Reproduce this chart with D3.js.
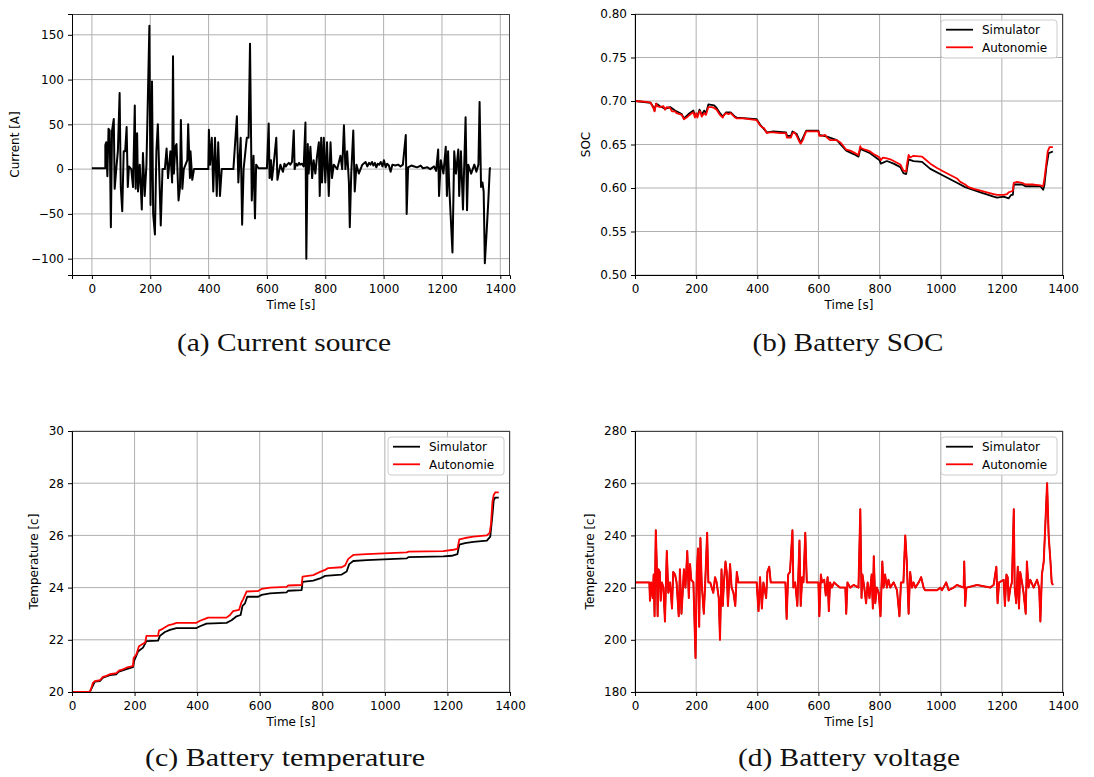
<!DOCTYPE html>
<html>
<head>
<meta charset="utf-8">
<script src="https://cdn.jsdelivr.net/npm/d3@7"></script>
<style>
  body { margin: 0; background: #fff; }
  svg { display: block; }
  .tick text { font-family: "DejaVu Sans", sans-serif; font-size: 12px; fill: #000; }
</style>
</head>
<body>
<svg id="fig" width="1094" height="777"></svg>
<script>
// ---------------- DATA ----------------
const xTicks = [0, 200, 400, 600, 800, 1000, 1200, 1400];

// (a) Current source
const currentTime = [0,46,46,49,53,57,61,65,69,75,78,84,89,95,99,104,109,114,119,123,127,135,141,147,150,155,158,164,171,175,181,187,197,201,206,210,216,221,226,231,236,242,250,256,261,269,275,278,281,286,290,297,302,305,310,315,327,330,336,338,344,350,399,401,405,411,416,422,428,433,439,445,485,497,502,510,515,520,531,537,542,548,554,559,563,571,600,606,609,614,617,623,632,636,646,651,655,660,665,669,675,680,686,692,695,700,705,710,714,720,726,732,735,740,743,749,755,760,766,772,778,781,786,789,795,800,806,812,818,823,829,841,852,858,864,869,875,881,884,889,896,901,907,915,927,938,944,950,955,960,965,970,975,980,985,990,996,1001,1007,1012,1018,1024,1030,1040,1050,1058,1066,1076,1079,1084,1095,1105,1115,1127,1135,1150,1160,1173,1180,1187,1190,1196,1205,1213,1217,1221,1225,1236,1242,1248,1256,1259,1265,1272,1281,1286,1290,1300,1311,1318,1325,1329,1334,1339,1343,1347,1354,1359,1364,1368];
const currentValue = [1,1,27,30,-8,45,43,-65,43,56,-22,2,20,85,-20,-47,20,20,47,-20,3,0,-20,71,-22,40,-25,5,-45,18,-30,5,160,-40,98,-50,-73,20,50,-5,-63,0,0,23,-10,20,-15,126,-5,25,28,-35,-20,55,-22,0,10,50,-10,20,-12,0,0,44,5,35,-25,35,-30,30,-30,0,0,59,-15,35,-62,0,35,35,140,-35,15,-55,5,1,1,51,-10,10,-12,5,35,-12,5,0,-3,6,3,5,7,5,8,43,0,6,4,7,5,6,3,52,-100,28,-5,25,-10,10,-5,15,30,-30,35,-15,35,-15,30,-30,30,-10,5,0,15,0,49,0,20,-15,-65,-5,43,-25,5,-5,5,8,3,7,5,8,4,7,2,6,5,8,3,10,2,6,4,-3,5,4,5,3,5,38,-50,2,4,3,2,4,1,2,0,3,-2,22,-30,10,-5,25,-30,20,-20,-93,20,-5,22,-30,20,-45,58,-46,5,-5,5,-3,5,75,-20,-15,-25,-105,-65,-35,1,1];
const currentTicks = [-100, -50, 0, 50, 100, 150];

// (b) Battery SOC
const socTimeAut = [0,38,51,60,64,69,73,82,93,98,104,115,121,131,136,153,160,169,175,186,191,196,200,204,211,215,218,226,232,240,251,259,267,278,287,291,298,306,313,322,327,333,355,398,409,415,422,431,440,453,475,494,497,510,515,521,529,538,542,549,554,560,584,600,603,612,622,628,638,660,673,682,691,704,715,731,737,739,753,769,780,791,800,804,811,824,835,846,857,868,878,887,889,895,900,911,939,949,966,988,1009,1031,1053,1064,1080,1091,1108,1130,1151,1173,1184,1206,1217,1222,1230,1236,1239,1250,1266,1277,1304,1326,1335,1339,1346,1350,1356,1367];
const socAutonomie = [0.700,0.699,0.698,0.692,0.688,0.697,0.694,0.693,0.694,0.690,0.693,0.692,0.688,0.688,0.686,0.684,0.679,0.681,0.683,0.686,0.687,0.681,0.686,0.681,0.688,0.687,0.682,0.686,0.684,0.693,0.693,0.692,0.690,0.684,0.681,0.684,0.686,0.685,0.686,0.683,0.681,0.680,0.680,0.678,0.672,0.670,0.669,0.663,0.664,0.664,0.663,0.663,0.658,0.658,0.663,0.664,0.660,0.653,0.651,0.655,0.660,0.665,0.665,0.665,0.660,0.660,0.661,0.658,0.655,0.655,0.652,0.648,0.644,0.643,0.641,0.638,0.648,0.646,0.644,0.642,0.639,0.637,0.635,0.632,0.635,0.634,0.633,0.631,0.629,0.627,0.620,0.619,0.626,0.638,0.635,0.637,0.636,0.633,0.628,0.623,0.619,0.615,0.611,0.607,0.604,0.601,0.599,0.597,0.595,0.593,0.592,0.592,0.593,0.595,0.596,0.597,0.606,0.607,0.606,0.604,0.604,0.603,0.602,0.610,0.630,0.642,0.647,0.647];
const socTimeSim = [0,51,60,64,69,82,98,115,131,153,160,175,191,196,204,211,218,226,232,240,259,267,278,287,298,313,327,333,398,409,431,453,494,497,510,515,529,542,560,600,603,628,660,691,715,731,737,769,800,804,824,846,868,878,887,895,911,939,966,1009,1053,1080,1130,1173,1184,1206,1222,1230,1236,1239,1266,1277,1326,1335,1339,1346,1353,1367];
const socSimulator = [0.700,0.698,0.693,0.689,0.697,0.694,0.691,0.693,0.689,0.685,0.680,0.685,0.689,0.683,0.683,0.690,0.684,0.689,0.686,0.696,0.695,0.692,0.686,0.682,0.687,0.687,0.682,0.681,0.679,0.673,0.664,0.665,0.664,0.660,0.660,0.665,0.662,0.652,0.666,0.666,0.661,0.659,0.655,0.643,0.639,0.636,0.645,0.640,0.632,0.628,0.631,0.628,0.624,0.617,0.616,0.633,0.631,0.630,0.622,0.614,0.606,0.601,0.595,0.590,0.589,0.590,0.588,0.592,0.592,0.604,0.604,0.602,0.602,0.598,0.603,0.625,0.640,0.642];
const socTicks = [0.50, 0.55, 0.60, 0.65, 0.70, 0.75, 0.80];

// (c) Battery temperature
const tempTimeAut = [0,57,63,67,73,89,99,110,121,142,150,163,174,190,195,197,206,214,227,234,238,275,278,291,307,323,334,398,409,425,435,494,505,515,534,542,547,558,595,606,633,686,691,734,737,771,793,809,819,862,873,883,899,942,1070,1076,1187,1219,1232,1238,1256,1283,1326,1335,1339,1344,1348,1353,1364];
const tempAutonomie = [20.0,20.0,20.2,20.35,20.42,20.45,20.58,20.62,20.68,20.72,20.82,20.87,20.93,20.98,21.0,21.3,21.45,21.75,21.85,21.9,22.15,22.15,22.35,22.43,22.55,22.6,22.65,22.65,22.73,22.8,22.85,22.85,22.95,23.1,23.15,23.45,23.55,23.85,23.87,23.95,24.0,24.03,24.08,24.1,24.42,24.48,24.6,24.68,24.75,24.78,24.85,25.1,25.25,25.28,25.35,25.38,25.4,25.45,25.48,25.85,25.9,25.95,26.0,26.1,26.4,27.3,27.55,27.65,27.65];
const tempTimeSim = [0,57,63,73,89,99,121,142,150,174,195,199,211,227,238,275,281,297,313,334,398,409,430,494,510,526,539,545,553,560,595,606,633,686,691,734,737,771,793,809,862,878,886,899,942,1070,1076,1187,1214,1232,1238,1256,1283,1326,1337,1344,1348,1353,1364];
const tempSimulator = [20.0,20.0,20.15,20.4,20.42,20.55,20.65,20.68,20.78,20.88,20.95,21.2,21.55,21.7,21.95,21.97,22.15,22.3,22.38,22.45,22.45,22.52,22.62,22.65,22.75,22.9,22.95,23.3,23.4,23.65,23.65,23.72,23.78,23.82,23.88,23.9,24.22,24.27,24.35,24.45,24.5,24.62,24.9,25.02,25.05,25.12,25.17,25.2,25.22,25.28,25.65,25.7,25.75,25.8,25.95,26.8,27.35,27.45,27.45];
const tempTicks = [20, 22, 24, 26, 28, 30];

// (d) Battery voltage (Simulator trace lies underneath Autonomie)
const voltTime = [0,47,49,53,58,61,64,68,71,74,77,81,84,88,93,98,104,109,115,121,125,131,136,143,147,152,156,160,165,171,176,180,184,191,198,202,206,210,214,218,225,229,236,240,246,256,262,267,274,278,283,287,291,296,300,304,311,316,322,328,333,338,344,398,404,409,415,420,429,433,439,444,453,492,496,501,507,515,518,524,531,538,542,547,551,557,562,600,603,608,612,619,624,630,634,638,644,651,660,671,688,691,695,704,715,731,737,741,744,750,756,761,767,774,778,781,786,791,797,803,809,813,818,824,829,835,846,857,865,870,878,884,889,895,900,906,911,917,928,936,944,949,988,999,1004,1009,1018,1026,1042,1053,1075,1077,1080,1084,1119,1162,1173,1182,1186,1191,1206,1210,1215,1219,1222,1228,1233,1239,1242,1247,1252,1256,1260,1266,1271,1278,1282,1287,1293,1304,1315,1322,1326,1331,1337,1348,1353,1359,1363,1367];
const voltAutonomie = [222,222,215,222,216,225,209,242,230,209,227,226,215,222,220,207,234,218,222,212,226,225,222,209,227,210,218,227,220,234,216,229,223,222,193,225,235,205,239,222,210,220,241,222,222,218,224,222,216,200,227,213,222,230,226,213,229,220,218,213,226,222,222,222,211,224,212,222,216,226,228,222,222,222,208,225,226,242,220,222,213,238,213,224,222,241,222,222,209,225,222,223,217,224,211,222,220,222,221,220,220,210,222,220,221,220,250,216,225,220,214,222,216,225,212,232,214,220,218,209,230,220,225,220,223,220,222,219,209,222,222,240,230,210,226,220,222,220,222,224,220,219,219,220,219,220,222,219,220,221,220,230,213,220,221,220,221,228,214,222,223,213,225,224,215,220,222,250,220,214,228,212,226,222,218,210,230,220,223,220,223,220,207,225,230,260,240,230,222,221];
const voltSimulator = voltAutonomie;
const voltTicks = [180, 200, 220, 240, 260, 280];

const seriesNames = ["Simulator", "Autonomie"];
const seriesColors = ["#000000", "#ff0000"];
const captions = ["(a) Current source", "(b) Battery SOC", "(c) Battery temperature", "(d) Battery voltage"];

// ---------------- DRAWING ----------------
const svg = d3.select("#fig");
const zip = (t, v) => t.map((d, i) => [d, v[i]]);

function panel(cfg) {
  const {L, R, T, B, xDomain, yDomain, yTicks, yFmt, yLabel, yLabelX, series, legend, caption, capX, capY, capW} = cfg;
  const g = svg.append("g");
  const x = d3.scaleLinear().domain(xDomain).range([L, R]);
  const y = d3.scaleLinear().domain(yDomain).range([B, T]);

  // grid
  g.append("g").selectAll("line").data(xTicks).join("line")
    .attr("x1", d => x(d)).attr("x2", d => x(d)).attr("y1", T).attr("y2", B)
    .attr("stroke", "#b0b0b0").attr("stroke-width", 1);
  g.append("g").selectAll("line").data(yTicks).join("line")
    .attr("x1", L).attr("x2", R).attr("y1", d => y(d)).attr("y2", d => y(d))
    .attr("stroke", "#b0b0b0").attr("stroke-width", 1);

  // clip
  const id = "clip" + Math.round(L) + "_" + Math.round(T);
  svg.append("clipPath").attr("id", id).append("rect")
    .attr("x", L).attr("y", T).attr("width", R - L).attr("height", B - T);

  const line = d3.line().x(d => x(d[0])).y(d => y(d[1]));
  const lg = g.append("g").attr("clip-path", `url(#${id})`);
  series.forEach(s => {
    lg.append("path").datum(s.data).attr("d", line)
      .attr("fill", "none").attr("stroke", s.color).attr("stroke-width", s.width || 1.8)
      .attr("stroke-linejoin", "round");
  });

  // spines
  g.append("line").attr("x1", L).attr("x2", R).attr("y1", T + 0.5).attr("y2", T + 0.5).attr("stroke", "#444");
  g.append("line").attr("x1", R - 0.5).attr("x2", R - 0.5).attr("y1", T).attr("y2", B).attr("stroke", "#444");

  // axes
  const xa = g.append("g").attr("transform", `translate(0,${B})`)
    .call(d3.axisBottom(x).tickValues(xTicks).tickSize(4).tickPadding(5).tickFormat(d3.format("d")));
  const ya = g.append("g").attr("transform", `translate(${L},0)`)
    .call(d3.axisLeft(y).tickValues(yTicks).tickSize(4).tickPadding(4).tickFormat(yFmt));
  [xa, ya].forEach(a => { a.select(".domain").attr("stroke", "#000"); a.selectAll(".tick line").attr("stroke", "#000"); });

  // labels
  g.append("text").attr("x", (L + R) / 2).attr("y", B + 34).attr("text-anchor", "middle")
    .style("font-family", "DejaVu Sans, sans-serif").style("font-size", "12px").text("Time [s]");
  g.append("text").attr("transform", `translate(${yLabelX},${(T + B) / 2}) rotate(-90)`)
    .attr("text-anchor", "middle").attr("dy", "0.35em")
    .style("font-family", "DejaVu Sans, sans-serif").style("font-size", "12px").text(yLabel);

  // legend
  if (legend) {
    const lx = R - 122, ly = T + 6;
    const lgd = g.append("g");
    lgd.append("rect").attr("x", lx).attr("y", ly).attr("width", 116).attr("height", 38).attr("rx", 3)
      .attr("fill", "#fff").attr("fill-opacity", 0.85).attr("stroke", "#cccccc");
    seriesNames.forEach((n, i) => {
      const yy = ly + 9.7 + i * 17.6;
      lgd.append("line").attr("x1", lx + 5).attr("x2", lx + 32).attr("y1", yy).attr("y2", yy)
        .attr("stroke", seriesColors[i]).attr("stroke-width", 1.8);
      lgd.append("text").attr("x", lx + 41).attr("y", yy).attr("dy", "0.35em")
        .style("font-family", "DejaVu Sans, sans-serif").style("font-size", "12px").text(n);
    });
  }

  // caption
  svg.append("text").attr("x", capX).attr("y", capY).attr("text-anchor", "middle")
    .attr("textLength", capW).attr("lengthAdjust", "spacingAndGlyphs")
    .style("font-family", "Liberation Serif, serif").style("font-size", "25px").style("fill", "#111")
    .text(caption);
}

panel({L: 72, R: 510, T: 14, B: 275, xDomain: [-68.25, 1433.25], yDomain: [-118.25, 173.25],
  yTicks: currentTicks, yFmt: d3.format("d"), yLabel: "Current [A]", yLabelX: 15,
  series: [{data: zip(currentTime, currentValue), color: seriesColors[0], width: 2}],
  legend: false, caption: captions[0], capX: 284, capY: 351, capW: 214});

panel({L: 635, R: 1063, T: 14, B: 275, xDomain: [0, 1400], yDomain: [0.5, 0.8],
  yTicks: socTicks, yFmt: d3.format(".2f"), yLabel: "SOC", yLabelX: 586,
  series: [{data: zip(socTimeSim, socSimulator), color: seriesColors[0]},
           {data: zip(socTimeAut, socAutonomie), color: seriesColors[1]}],
  legend: true, caption: captions[1], capX: 848, capY: 351, capW: 191});

panel({L: 72, R: 510, T: 431, B: 692, xDomain: [0, 1400], yDomain: [20, 30],
  yTicks: tempTicks, yFmt: d3.format("d"), yLabel: "Temperature [c]", yLabelX: 34,
  series: [{data: zip(tempTimeSim, tempSimulator), color: seriesColors[0]},
           {data: zip(tempTimeAut, tempAutonomie), color: seriesColors[1]}],
  legend: true, caption: captions[2], capX: 285, capY: 766, capW: 280});

panel({L: 635, R: 1063, T: 431, B: 692, xDomain: [0, 1400], yDomain: [180, 280],
  yTicks: voltTicks, yFmt: d3.format("d"), yLabel: "Temperature [c]", yLabelX: 590,
  series: [{data: zip(voltTime, voltSimulator), color: seriesColors[0], width: 1.4},
           {data: zip(voltTime, voltAutonomie), color: seriesColors[1], width: 2}],
  legend: true, caption: captions[3], capX: 849, capY: 766, capW: 222});
</script>
</body>
</html>
